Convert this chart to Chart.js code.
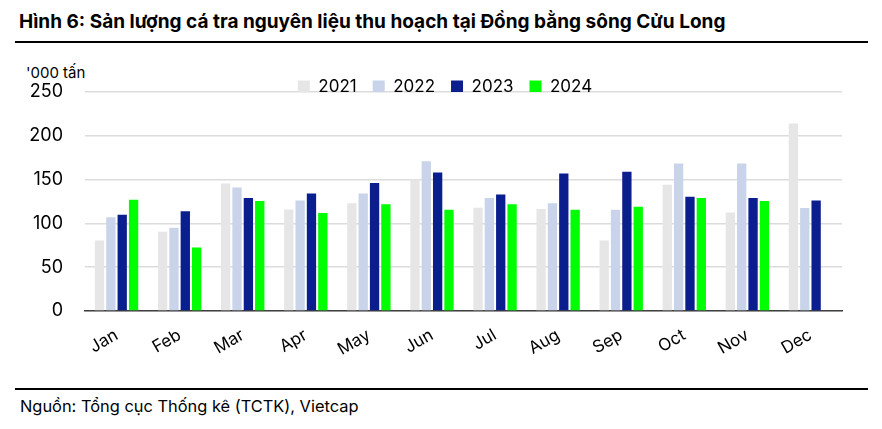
<!DOCTYPE html>
<html><head><meta charset="utf-8">
<script src="https://cdn.jsdelivr.net/npm/chart.js@4.4.1/dist/chart.umd.min.js"></script>
<style>
html,body{margin:0;padding:0;background:#fff;width:882px;height:429px;overflow:hidden;font-family:Inter,sans-serif}
#title{position:absolute;left:19px;top:10px;font-weight:bold;font-size:19px;color:#000;white-space:nowrap}
.rule{position:absolute;left:15px;width:853px;height:2px;background:#000}
#unit{position:absolute;left:26px;top:63px;font-size:15px;color:#000;white-space:nowrap}
#src{position:absolute;left:20px;top:396px;font-size:16.4px;color:#000;white-space:nowrap}
#wrap{position:absolute;left:0;top:44px;width:882px;height:341px}
</style></head>
<body>
<div id="title">Hình 6: Sản lượng cá tra nguyên liệu thu hoạch tại Đồng bằng sông Cửu Long</div>
<div class="rule" style="top:41px"></div>
<div id="unit">'000 tấn</div>
<div id="wrap"><canvas id="c"></canvas></div>
<div class="rule" style="top:388px"></div>
<div id="src">Nguồn: Tổng cục Thống kê (TCTK), Vietcap</div>
<script>
const months = ['Jan','Feb','Mar','Apr','May','Jun','Jul','Aug','Sep','Oct','Nov','Dec'];
const seriesNames = ['2021','2022','2023','2024'];
const values2021 = [80.5, 90.5, 145.5, 116, 123, 150, 118, 116.5, 80.5, 144, 112.5, 214];
const values2022 = [107, 95, 141, 126, 134, 171, 129, 123, 115.5, 168.5, 168.5, 117.5];
const values2023 = [110, 114, 129, 134, 146, 158, 133, 157, 159, 130.5, 129, 126];
const values2024 = [127, 72.5, 125.5, 112, 122, 115.5, 122, 115.5, 119, 129, 125.5, null];
const yTicks = [0, 50, 100, 150, 200, 250];

const colors = ['#E6E6E6', '#C9D4EA', '#0B1E8E', '#00FF00'];
const allValues = [values2021, values2022, values2023, values2024];

Chart.defaults.font.family = 'Inter, sans-serif';
Chart.defaults.color = '#000';

const legendShift = {
  id: 'legendShift',
  afterLayout(chart) {
    const l = chart.legend;
    if (!l) return;
    const shift = 445 - (l.left + l.right) / 2;
    l.left += shift; l.right += shift;
  }
};

new Chart(document.getElementById('c'), {
  type: 'bar',
  data: {
    labels: months,
    datasets: seriesNames.map((n, i) => ({
      label: n,
      data: allValues[i],
      backgroundColor: colors[i],
      borderWidth: 0,
      categoryPercentage: 0.72,
      barPercentage: 0.82
    }))
  },
  options: {
    responsive: true,
    maintainAspectRatio: false,
    animation: false,
    layout: { padding: { top: 18, right: 40, bottom: 0, left: 0 } },
    plugins: {
      legend: {
        position: 'top',
        maxHeight: 30,
        labels: { boxWidth: 12, boxHeight: 12, padding: 16, font: { size: 17 }, color: '#000' }
      },
      tooltip: { enabled: false }
    },
    scales: {
      x: {
        grid: { display: false, drawTicks: false },
        border: { display: true, color: '#404040', width: 1.5 },
        ticks: { minRotation: 30, maxRotation: 30, padding: 14, font: { size: 17 }, color: '#000' },
        afterFit(s) { s.height = 74; }
      },
      y: {
        min: 0, max: 250,
        afterBuildTicks(s) { s.ticks = yTicks.map(v => ({ value: v })); },
        grid: { color: '#DCDCDC', lineWidth: 1.5, drawTicks: false },
        border: { display: false },
        ticks: { padding: 22, font: { size: 18 }, color: '#000' },
        afterFit(s) { s.width = 85; }
      }
    }
  },
  plugins: [legendShift]
});
</script>
</body></html>
